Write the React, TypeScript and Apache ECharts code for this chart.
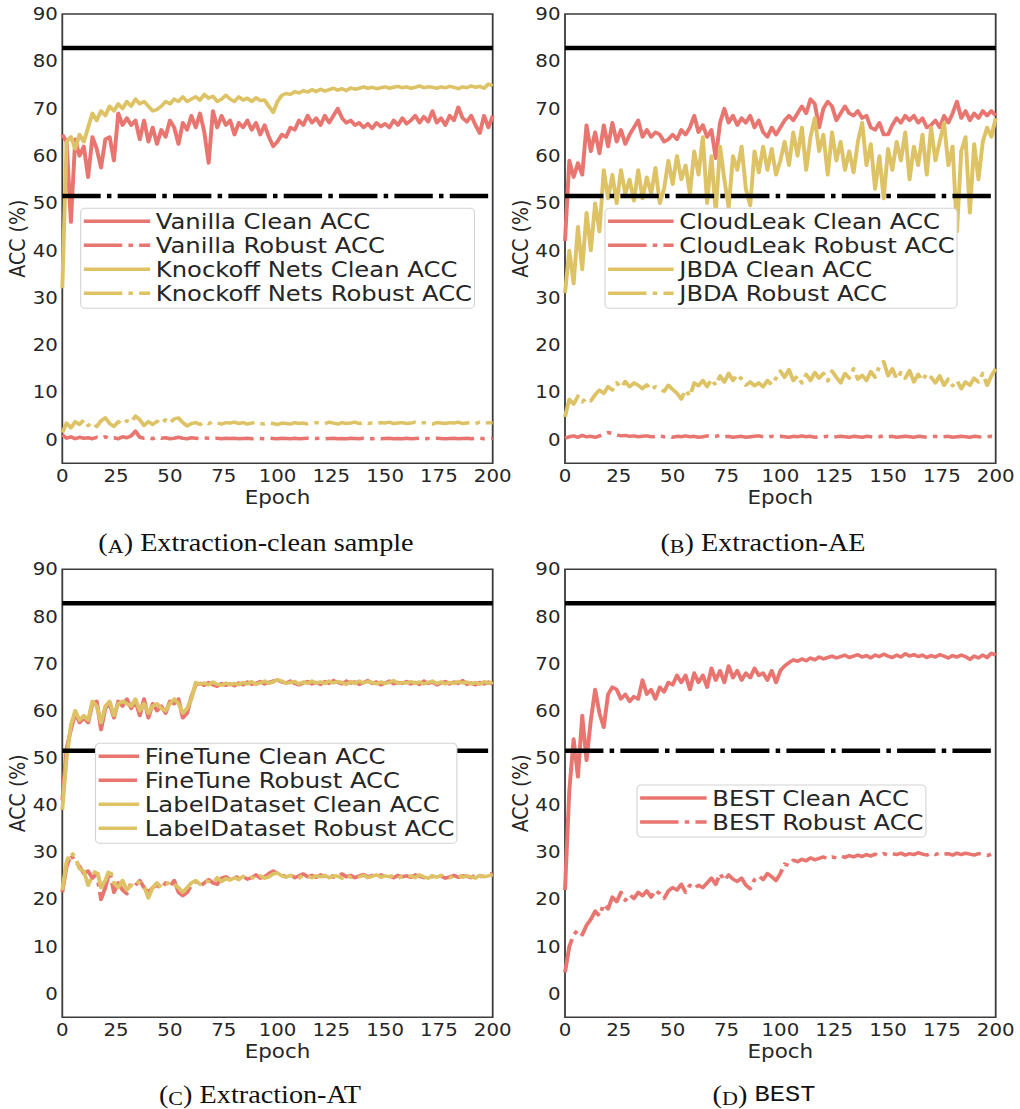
import { useEffect, useRef } from "react";
import * as echarts from "echarts";

// Accuracy (%) curves, one value every EPOCH_STEP epochs: epoch 0, 2, 4, ..., 200.
const EPOCH_STEP = 2;
const EPOCH_MAX = 200;
const EPOCH_TICK = 25;
const ACC_MIN = -5;
const ACC_MAX = 90;
const ACC_LABEL_EVERY = 10;

// Victim model reference levels (black lines)
const VICTIM_CLEAN_ACC = 82.8;
const VICTIM_ROBUST_ACC = 51.5;

// (a) Extraction with clean samples
const VANILLA_CLEAN = [
  64.5, 63, 46, 63.5, 60, 62, 55.5, 64, 61.5, 57.5,
  63.5, 64, 59, 69, 66.5, 68, 66.5, 67.5, 63.5, 67.5,
  63, 66, 62.5, 65.5, 64, 67.5, 66, 62.5, 67, 65.5,
  68.5, 66, 69, 65, 58.5, 69.5, 66, 68.5, 66.5, 67.5,
  64.5, 67, 66, 67.5, 65.5, 67, 64.5, 66.5, 64, 62,
  63, 64.5, 64, 66, 65.5, 67.5, 66.5, 68.5, 67, 68,
  66.5, 68.5, 67, 68.5, 70, 68, 67, 67.5, 66.5, 67,
  66, 66.8, 65.8, 67, 66.2, 66.8, 66, 67.5, 66.5, 68,
  66.8, 67.5, 68.5, 67, 68.3, 67.2, 69.5, 67, 68, 66.5,
  68.5, 67.5, 70.3, 68, 67.2, 68.5, 66.5, 64.8, 68.5, 66,
  68.5,
];
const VANILLA_ROBUST = [
  1.0, 0.3, 0.6, 0.2, 0.5, 0.3, 0.4, 0.2, 0.5, 0.3,
  0.6, 0.3, 0.4, 0.2, 0.6, 0.4, 0.8, 1.8, 0.5, 0.3,
  0.4, 0.2, 0.5, 0.3, 0.4, 0.2, 0.3, 0.5, 0.3, 0.2,
  0.4, 0.3, 0.2, 0.35, 0.3, 0.25, 0.3, 0.2, 0.3, 0.25,
  0.3, 0.2, 0.25, 0.3, 0.2, 0.3, 0.25, 0.2, 0.3, 0.25,
  0.2, 0.3, 0.25, 0.2, 0.3, 0.2, 0.25, 0.3, 0.2, 0.25,
  0.3, 0.2, 0.25, 0.3, 0.2, 0.25, 0.2, 0.3, 0.25, 0.2,
  0.3, 0.25, 0.2, 0.3, 0.2, 0.25, 0.3, 0.2, 0.25, 0.2,
  0.3, 0.2, 0.25, 0.3, 0.2, 0.25, 0.2, 0.3, 0.25, 0.2,
  0.25, 0.3, 0.2, 0.25, 0.3, 0.2, 0.25, 0.3, 0.2, 0.25,
  0.3,
];
const KNOCKOFF_CLEAN = [
  32, 63, 64, 61.5, 64.5, 63, 66, 69, 67.5, 69.5,
  68.5, 70.5, 69.5, 71, 70, 71.5, 70.5, 72, 71, 71.5,
  70.5, 69.5, 69.8, 70.5, 71.5, 71, 72, 71.5, 72.5, 71.5,
  72, 72.5, 71.8, 73, 72.2, 72.6, 71.5, 72, 72.8, 72,
  71.5, 72.5, 71.8, 72.2, 71.5, 72.3, 71.7, 71.8, 70.5, 69.2,
  71.5, 72.8, 73.2, 73, 73.6, 73.3, 73.8, 73.5, 74, 73.6,
  74.1, 73.7, 74, 74.3, 73.9, 74.2, 73.8, 74.4, 74.1, 74.3,
  74.6, 74.3, 74.5, 74.2, 74.4, 74.6, 74.3, 74.5, 74.7, 74.4,
  74.6, 74.3, 74.5, 74.8, 74.4, 74.6, 74.5, 74.3, 74.6, 74.4,
  74.7, 74.5, 74.2, 74.6, 74.4, 74.8, 74.5, 74.7, 74.3, 75.2,
  74.8,
];
const KNOCKOFF_ROBUST = [
  1.5, 3.5, 2.5, 3.8, 3.2, 4.2, 3.0, 3.6, 2.8, 4.0,
  4.6, 3.4, 2.8, 3.8, 3.2, 4.0, 3.6, 5.0, 4.2, 3.0,
  3.8, 3.2, 3.9, 3.3, 4.2, 3.5, 4.4, 4.6, 3.6, 2.9,
  3.4, 3.6, 3.2, 3.7, 3.4, 3.8, 3.5, 3.3, 3.6, 3.5,
  3.7, 3.4, 3.6, 3.3, 3.5, 3.7, 3.4, 3.3, 3.5, 3.4,
  3.2, 3.5, 3.4, 3.3, 3.6, 3.4, 3.5, 3.3, 3.4, 3.6,
  3.5, 3.4, 3.7, 3.5, 3.3, 3.6, 3.4, 3.5, 3.7, 3.4,
  3.6, 3.4, 3.5, 3.3, 3.6, 3.5, 3.7, 3.4, 3.5, 3.6,
  3.4, 3.5, 3.7, 3.4, 3.6, 3.5, 3.3, 3.6, 3.5, 3.4,
  3.6, 3.5, 3.7, 3.4, 3.5, 3.6, 3.4, 3.7, 3.5, 3.6,
  3.5,
];

// (b) Extraction with adversarial examples
const CLOUDLEAK_CLEAN = [
  42, 59, 55.5, 58.5, 56, 66.5, 61, 65, 60.5, 66.5,
  62, 67, 63, 65.5, 62.5, 64.5, 66, 67.5, 64, 65.5,
  64, 65, 64.5, 63, 63.5, 64.5, 63.5, 65.5, 64.5, 66,
  68.5, 65, 66.5, 64, 65.5, 59.5, 67, 70, 67, 68.5,
  66.5, 68, 67, 68.5, 66, 67.5, 65, 64, 66, 64.5,
  66, 67.5, 68.5, 67.5, 69, 70.5, 69, 72, 71, 66,
  70, 71.5, 70.5, 67.5, 69, 70.5, 69, 68.5, 69.5, 68,
  68.5, 66, 65.5, 67, 64.5, 64.5, 66.5, 68, 67, 68.5,
  67.5, 68.5, 67, 68, 66, 66.5, 67.5, 66, 68.5, 67,
  69, 71.5, 68, 69.5, 67.5, 69, 68, 69.5, 68.5, 69.5,
  68.5,
];
const CLOUDLEAK_ROBUST = [
  0.3, 0.6, 0.8, 0.5, 0.9, 0.6, 0.7, 0.5, 0.8, 1.2,
  1.5, 1.3, 1.0, 0.8, 0.9, 0.7, 0.8, 0.6, 0.7, 0.8,
  0.6, 0.7, 0.9, 0.6, 0.7, 0.5, 0.7, 0.6, 0.8, 0.6,
  0.7, 0.5, 0.6, 0.8, 0.6, 0.7, 0.9, 0.6, 0.7, 0.5,
  0.6, 0.7, 0.5, 0.6, 0.7, 0.8, 0.6, 0.5, 0.7, 0.6,
  0.7, 0.6, 0.5, 0.7, 0.6, 0.8, 0.6, 0.7, 0.5, 0.6,
  0.6, 0.7, 0.5, 0.6, 0.7, 0.6, 0.5, 0.7, 0.6, 0.5,
  0.7, 0.6, 0.5, 0.6, 0.8, 0.6, 0.7, 0.5, 0.6, 0.7,
  0.6, 0.5, 0.7, 0.6, 0.5, 0.6, 0.7, 0.5, 0.6, 0.7,
  0.5, 0.6, 0.7, 0.6, 0.5, 0.7, 0.6, 0.5, 0.6, 0.7,
  0.6,
];
const JBDA_CLEAN = [
  31, 40, 33, 45, 36, 48, 40, 50, 44, 57,
  51, 56, 50, 57, 52, 55, 50.5, 57, 51, 55.5,
  52, 57.5, 50, 53, 59, 54, 60, 55, 58, 52,
  61, 56, 64, 50, 60, 48, 62, 55, 49, 60,
  57, 62, 53, 49.5, 61, 56.5, 62, 57, 61.5, 56,
  59, 63, 58, 65, 60, 66, 57, 64, 68, 61,
  64.5, 56, 65, 59, 63, 57, 61, 56.5, 63, 67,
  58, 62.5, 53, 60, 51, 61.5, 57, 63, 59, 65,
  55, 62, 58, 64.5, 56, 66, 59, 63, 67, 58,
  62, 44, 61, 64, 48, 62.5, 55, 63, 66, 64,
  68,
];
const JBDA_ROBUST = [
  4.8, 8.5, 7.5, 9.2, 8, 8.8, 8.2, 9.5, 10.5, 9.8,
  11.2, 10.5, 12, 11, 12.3, 11.2, 12, 11.5, 10.8, 11.6,
  10.5, 11.2, 10.8, 10.2, 11.5, 10.6, 9.8, 8.6, 10.5, 9.2,
  12, 11.4, 12.5, 11.2, 12.8, 11.5, 13.5, 12.2, 14, 12.5,
  13.8, 12.8, 11.5, 12.2, 11.4, 12, 11.2, 12.5, 11.6, 13,
  14.5, 13.2, 14.8, 12.5, 13.5, 12, 13.8, 12.5, 14.2, 13,
  14, 12.4, 14.5, 13.2, 12, 14, 13, 15, 12.8, 13.6,
  12.5, 14.4, 13.2, 15.5, 16.5, 13.5, 15, 12.8, 14.2, 13,
  14.6, 12.2, 13.8, 12.5, 14, 13.2, 12, 13.5, 11.5, 12.8,
  11.4, 12.5, 10.8, 12.2, 11.5, 13, 12.2, 14, 11.5, 13.5,
  15,
];

// (c) Extraction with adversarial training
const FINETUNE_CLEAN = [
  41, 52, 56, 59.5, 57.5, 58.5, 57.5, 61.5, 62, 56,
  60.5, 61.5, 58.5, 62, 61, 62.5, 60.5, 62, 59, 62.5,
  58.5, 61.5, 60, 61, 59.5, 62, 61.5, 62.5, 58.5, 59.5,
  63, 65.5, 65.8, 65.4, 66, 65.5, 65.2, 65.8, 65.4, 65.7,
  65.3, 65.9, 65.5, 66.1, 65.6, 65.8, 66.2, 65.7, 66, 66.3,
  66.5, 66.1, 65.9, 66.3, 65.8, 65.5, 65.9, 66.2, 65.7, 66,
  65.6, 66.2, 65.8, 66.4, 66, 65.7, 66.3, 65.9, 66.1, 65.6,
  66, 66.4, 65.8, 66.1, 65.5, 65.9, 66.3, 65.7, 66, 65.8,
  66.2, 65.7, 66, 65.6, 66.3, 65.8, 66.1, 65.5, 65.9, 66.2,
  65.7, 66.1, 65.8, 66.4, 65.6, 65.9, 65.5, 66, 65.7, 66.1,
  65.6,
];
const FINETUNE_ROBUST = [
  21.5, 27, 29.5, 28, 27, 25.5, 26, 24.5, 25.5, 20,
  22.5, 26, 21.5, 23.5, 22, 21.2, 23.5, 23, 24, 22.5,
  21.5, 22.5, 23, 22.3, 23.5, 22.8, 24, 21.5, 20.8, 21.5,
  23, 23.8, 22.8, 23.5, 24.2, 23.5, 23.2, 24.5, 24.8, 24.2,
  25, 24.5, 24.8, 24.3, 24.6, 25.2, 24.5, 24.8, 25.5, 26,
  25.5, 25.2, 24.8, 25.3, 24.6, 25, 25.4, 24.8, 25.1, 24.7,
  25.2, 24.9, 25.3, 24.7, 25, 25.4, 24.8, 25.1, 24.6, 25,
  25.3, 24.8, 25.1, 24.7, 25.2, 24.9, 25, 24.6, 25.1, 24.8,
  25, 24.7, 25.2, 24.9, 24.6, 25.1, 24.8, 25.3, 24.9, 24.5,
  24.8, 25.1, 24.7, 25, 24.9, 24.6, 25.2, 24.8, 25, 25.3,
  25.5,
];
const LABELDATASET_CLEAN = [
  39, 50, 57, 60, 58, 59, 58, 62, 61, 57.5,
  61, 62, 59, 61.5, 62, 61.5, 61, 62.5, 60, 61.5,
  59.5, 61, 61.5, 60.5, 60, 61.5, 62.5, 61.5, 59.5, 60.5,
  62.5, 66, 65.6, 65.9, 65.5, 66.1, 65.6, 65.4, 65.9, 65.5,
  65.8, 65.5, 66, 65.7, 66.2, 65.6, 65.9, 66.3, 65.8, 66.1,
  66.6, 66.3, 65.8, 66, 66.2, 65.7, 66.1, 65.8, 66.3, 65.9,
  66.1, 65.8, 66.3, 65.9, 66.2, 66, 65.6, 66.2, 65.8, 66.3,
  65.9, 66.2, 66, 65.7, 66.1, 65.8, 66, 66.4, 65.8, 66,
  65.9, 66.2, 65.8, 66.1, 65.7, 66, 66.3, 65.8, 66.1, 65.7,
  66, 65.8, 66.2, 65.9, 66.1, 65.7, 66, 65.6, 66.2, 65.8,
  66.1,
];
const LABELDATASET_ROBUST = [
  22, 28, 30, 29, 26.5, 26, 23, 25, 26.5, 22.5,
  24, 26.5, 23.5, 22.5, 24, 22, 23, 24, 23.5, 22.8,
  20.3, 22.5, 23.5, 22.5, 23, 23.8, 23.2, 22.5, 21.5, 22.5,
  23.5, 24, 23.2, 24, 23.8, 23.4, 24.6, 23.8, 24.4, 24.1,
  24.6, 24.2, 24.9, 24.4, 24.7, 24.3, 25, 24.5, 24.8, 25.4,
  25.6, 25, 24.7, 25.1, 24.8, 24.5, 25.2, 24.9, 24.6, 25,
  24.8, 25.1, 24.6, 25, 24.9, 24.5, 25.2, 24.7, 25, 24.8,
  25.1, 24.6, 24.9, 25.2, 24.7, 25, 24.8, 25.1, 24.5, 24.9,
  24.8, 25, 24.6, 25.2, 24.8, 24.5, 25, 24.7, 25.1, 24.8,
  24.6, 24.9, 25.2, 24.7, 25, 24.8, 24.5, 25.1, 24.8, 25,
  25.2,
];

// (d) BEST
const BEST_CLEAN = [
  22, 43, 54, 46, 59, 49.5, 58, 64.5, 59.5, 56.5,
  63.5, 65, 64.5, 62.5, 63.5, 62, 63, 62.5, 66.5, 63.5,
  64.5, 62.5, 65, 64, 66, 65.5, 67.5, 66, 67.5, 64.5,
  68, 66, 67.5, 65, 69, 66.5, 68.5, 66, 69.5, 67,
  68.5, 66.5, 68, 67, 69, 67.5, 68, 66.5, 68.5, 66,
  68.5, 69.5, 70.2, 70.8, 70.5, 71, 70.6, 71.2, 70.8, 71.4,
  71, 71.3, 71.6, 71.2, 71.5, 71.8, 71.3, 71.6, 71.9, 71.4,
  71.7, 71.2, 71.8, 71.5, 72, 71.6, 71.3, 71.8, 71.4, 72.1,
  71.6, 71.9, 71.5, 71.8, 71.3, 71.7, 71.4, 71.9, 71.6, 71.2,
  71.7, 71.4, 71.8, 71.5, 70.9, 71.6, 71.2, 71.8, 71.3, 72.2,
  71.8,
];
const BEST_ROBUST = [
  4.5, 10, 12.5, 13.5, 12.5, 14.5, 15.8, 17.5, 16.5, 19,
  18, 20.5, 19.5, 21.5, 19.8, 21, 20.2, 21.5, 20.8, 21.8,
  20.5, 22, 21.2, 20.2, 21.8, 22.5, 22, 23.2, 21.5, 23,
  22.3, 23, 22.5, 23.5, 24.5, 23.2, 25.5, 24, 25.2, 24.3,
  23.8, 24.5, 23, 22.3, 24.2, 25, 24.2, 25.5, 24.8, 24,
  25.5, 27.5, 27.2, 28.3, 28, 28.5, 28.2, 28.8, 28.4, 28.7,
  29, 28.6, 29, 28.8, 29.2, 28.9, 29.3, 29, 29.4, 29.1,
  29.5, 29.2, 29.6, 29.3, 29.7, 29.4, 29.7, 29.5, 29.8, 29.4,
  29.7, 29.5, 29.9, 29.6, 29.4, 29.8, 29.5, 29.9, 29.6, 29.7,
  29.4, 29.8, 29.5, 29.8, 29.6, 29.4, 29.7, 29.5, 29.3, 29.6,
  29.4,
];

// ---- styling ----
const RED = "#e8756f";
const YELLOW = "#dec366";
const INK = "#262626";
const FRAME = "#3c3c3c";
const SANS = "DejaVu Sans";
const SERIF = "Liberation Serif";
const MONO = "Liberation Mono";
const DASH_DOT = [34, 5.5, 4, 5.5];
const CURVE_WIDTH = 3.5;

// The chart is laid out on a narrower canvas and stretched horizontally,
// giving the wide-set lettering of the printed figure.
const PAGE_W = 1020;
const PAGE_H = 1109;
const CANVAS_W = 903;
const STRETCH = PAGE_W / CANVAS_W;
const sx = (x: number) => x / STRETCH;

type Curve = { name: string; values: number[]; color: string; robust: boolean };
type Panel = {
  box: { l: number; r: number; t: number; b: number };
  legend: { left: number; top: number; iconW: number };
  caption: { x: number; y: number; letter: string; rest: string; mono?: string };
  curves: Curve[];
};

const PANELS: Panel[] = [
  {
    box: { l: 62.3, r: 492.7, t: 14, b: 463.3 },
    legend: { left: 80.7, top: 208.3, iconW: 66.3 },
    caption: { x: 256, y: 543, letter: "A", rest: " Extraction-clean sample" },
    curves: [
      { name: "Vanilla Clean ACC", values: VANILLA_CLEAN, color: RED, robust: false },
      { name: "Vanilla Robust ACC", values: VANILLA_ROBUST, color: RED, robust: true },
      { name: "Knockoff Nets Clean ACC", values: KNOCKOFF_CLEAN, color: YELLOW, robust: false },
      { name: "Knockoff Nets Robust ACC", values: KNOCKOFF_ROBUST, color: YELLOW, robust: true },
    ],
  },
  {
    box: { l: 565, r: 995.7, t: 14, b: 463.3 },
    legend: { left: 605, top: 208.3, iconW: 65.5 },
    caption: { x: 763, y: 543, letter: "B", rest: " Extraction-AE" },
    curves: [
      { name: "CloudLeak Clean ACC", values: CLOUDLEAK_CLEAN, color: RED, robust: false },
      { name: "CloudLeak Robust ACC", values: CLOUDLEAK_ROBUST, color: RED, robust: true },
      { name: "JBDA Clean ACC", values: JBDA_CLEAN, color: YELLOW, robust: false },
      { name: "JBDA Robust ACC", values: JBDA_ROBUST, color: YELLOW, robust: true },
    ],
  },
  {
    box: { l: 62.3, r: 492.7, t: 569.3, b: 1017.3 },
    legend: { left: 95.5, top: 743.3, iconW: 40.6 },
    caption: { x: 260, y: 1095, letter: "C", rest: " Extraction-AT" },
    curves: [
      { name: "FineTune Clean ACC", values: FINETUNE_CLEAN, color: RED, robust: false },
      { name: "FineTune Robust ACC", values: FINETUNE_ROBUST, color: RED, robust: true },
      { name: "LabelDataset Clean ACC", values: LABELDATASET_CLEAN, color: YELLOW, robust: false },
      { name: "LabelDataset Robust ACC", values: LABELDATASET_ROBUST, color: YELLOW, robust: true },
    ],
  },
  {
    box: { l: 565, r: 995.7, t: 569.3, b: 1017.3 },
    legend: { left: 637, top: 785, iconW: 66.5 },
    caption: { x: 764, y: 1095, letter: "D", rest: " ", mono: "BEST" },
    curves: [
      { name: "BEST Clean ACC", values: BEST_CLEAN, color: RED, robust: false },
      { name: "BEST Robust ACC", values: BEST_ROBUST, color: RED, robust: true },
    ],
  },
];

const toPoints = (values: number[]) => values.map((v, i) => [i * EPOCH_STEP, v]);

function buildOption(): echarts.EChartsOption {
  const grid: any[] = [];
  const xAxis: any[] = [];
  const yAxis: any[] = [];
  const series: any[] = [];
  const legend: any[] = [];
  const graphic: any[] = [];

  PANELS.forEach((p, i) => {
    grid.push({
      left: sx(p.box.l),
      top: p.box.t,
      width: sx(p.box.r) - sx(p.box.l),
      height: p.box.b - p.box.t,
      show: true,
      borderColor: FRAME,
      borderWidth: 1.6,
      backgroundColor: "transparent",
    });
    xAxis.push({
      gridIndex: i,
      type: "value",
      min: 0,
      max: EPOCH_MAX,
      interval: EPOCH_TICK,
      axisLine: { show: false },
      axisTick: { show: false },
      splitLine: { show: false },
      axisLabel: { fontSize: 17.5, color: INK, fontFamily: SANS, margin: 4 },
      name: "Epoch",
      nameLocation: "middle",
      nameGap: 25,
      nameTextStyle: { fontSize: 19, color: INK, fontFamily: SANS },
    });
    yAxis.push({
      gridIndex: i,
      type: "value",
      min: ACC_MIN,
      max: ACC_MAX,
      interval: 5,
      axisLine: { show: false },
      axisTick: { show: false },
      splitLine: { show: false },
      axisLabel: {
        fontSize: 17.5,
        color: INK,
        fontFamily: SANS,
        margin: 4,
        formatter: (v: number) => (v % ACC_LABEL_EVERY === 0 ? String(v) : ""),
      },
      name: "ACC (%)",
      nameLocation: "middle",
      nameGap: 23,
      nameRotate: 90,
      nameTextStyle: { fontSize: 19, color: INK, fontFamily: SANS },
    });

    p.curves.forEach((c) => {
      series.push({
        type: "line",
        name: c.name,
        xAxisIndex: i,
        yAxisIndex: i,
        data: toPoints(c.values),
        symbol: "none",
        showSymbol: false,
        silent: true,
        z: 2,
        itemStyle: { color: c.color },
        lineStyle: {
          color: c.color,
          width: CURVE_WIDTH,
          type: c.robust ? DASH_DOT : "solid",
          join: "round",
          cap: "butt",
        },
      });
    });

    // victim model accuracy levels
    series.push({
      type: "line",
      name: `victim-clean-${i}`,
      xAxisIndex: i,
      yAxisIndex: i,
      data: [
        [0, VICTIM_CLEAN_ACC],
        [EPOCH_MAX, VICTIM_CLEAN_ACC],
      ],
      symbol: "none",
      silent: true,
      z: 3,
      lineStyle: { color: "#000", width: 4.5 },
    });
    series.push({
      type: "line",
      name: `victim-robust-${i}`,
      xAxisIndex: i,
      yAxisIndex: i,
      data: [
        [0, VICTIM_ROBUST_ACC],
        [EPOCH_MAX, VICTIM_ROBUST_ACC],
      ],
      symbol: "none",
      silent: true,
      z: 3,
      lineStyle: { color: "#000", width: 4.5, type: DASH_DOT, cap: "butt" },
    });

    legend.push({
      data: p.curves.map((c) => c.name),
      orient: "vertical",
      left: sx(p.legend.left),
      top: p.legend.top,
      itemWidth: sx(p.legend.iconW),
      itemHeight: 14,
      itemGap: 2,
      padding: [2, 2, 4, 1],
      selectedMode: false,
      backgroundColor: "#ffffff",
      borderColor: "#d4d4d4",
      borderWidth: 1,
      borderRadius: 4,
      // line-only keys: hide the marker that line series put in the middle
      itemStyle: { opacity: 0, borderWidth: 0 },
      lineStyle: { width: CURVE_WIDTH },
      textStyle: { fontSize: 21.5, lineHeight: 21.5, color: INK, fontFamily: SANS },
      z: 5,
    });

    const cap = p.caption;
    const text = cap.mono
      ? `({sc|${cap.letter}})${cap.rest}{tt|${cap.mono}}`
      : `({sc|${cap.letter}})${cap.rest}`;
    graphic.push({
      type: "text",
      x: sx(cap.x),
      y: cap.y,
      silent: true,
      style: {
        text,
        fontSize: 25,
        fontFamily: SERIF,
        fill: "#111",
        align: "center",
        verticalAlign: "middle",
        rich: {
          sc: { fontSize: 19.5, fontFamily: SERIF, fill: "#111", verticalAlign: "bottom" },
          tt: { fontSize: 22.5, fontFamily: MONO, fill: "#111" },
        },
      },
    });
  });

  return {
    animation: false,
    backgroundColor: "#fff",
    textStyle: { fontFamily: SANS },
    grid,
    xAxis,
    yAxis,
    legend,
    series,
    graphic,
  };
}

export default function App() {
  const ref = useRef<HTMLDivElement>(null);

  useEffect(() => {
    if (!ref.current) return;
    const chart = echarts.init(ref.current, undefined, { renderer: "svg" });
    chart.setOption(buildOption());
    return () => chart.dispose();
  }, []);

  return (
    <div
      style={{
        position: "absolute",
        left: 0,
        top: 0,
        width: PAGE_W,
        height: PAGE_H,
        overflow: "hidden",
        background: "#fff",
      }}
    >
      <div
        ref={ref}
        style={{
          width: CANVAS_W,
          height: PAGE_H,
          transform: `scaleX(${STRETCH})`,
          transformOrigin: "0 0",
        }}
      />
    </div>
  );
}
